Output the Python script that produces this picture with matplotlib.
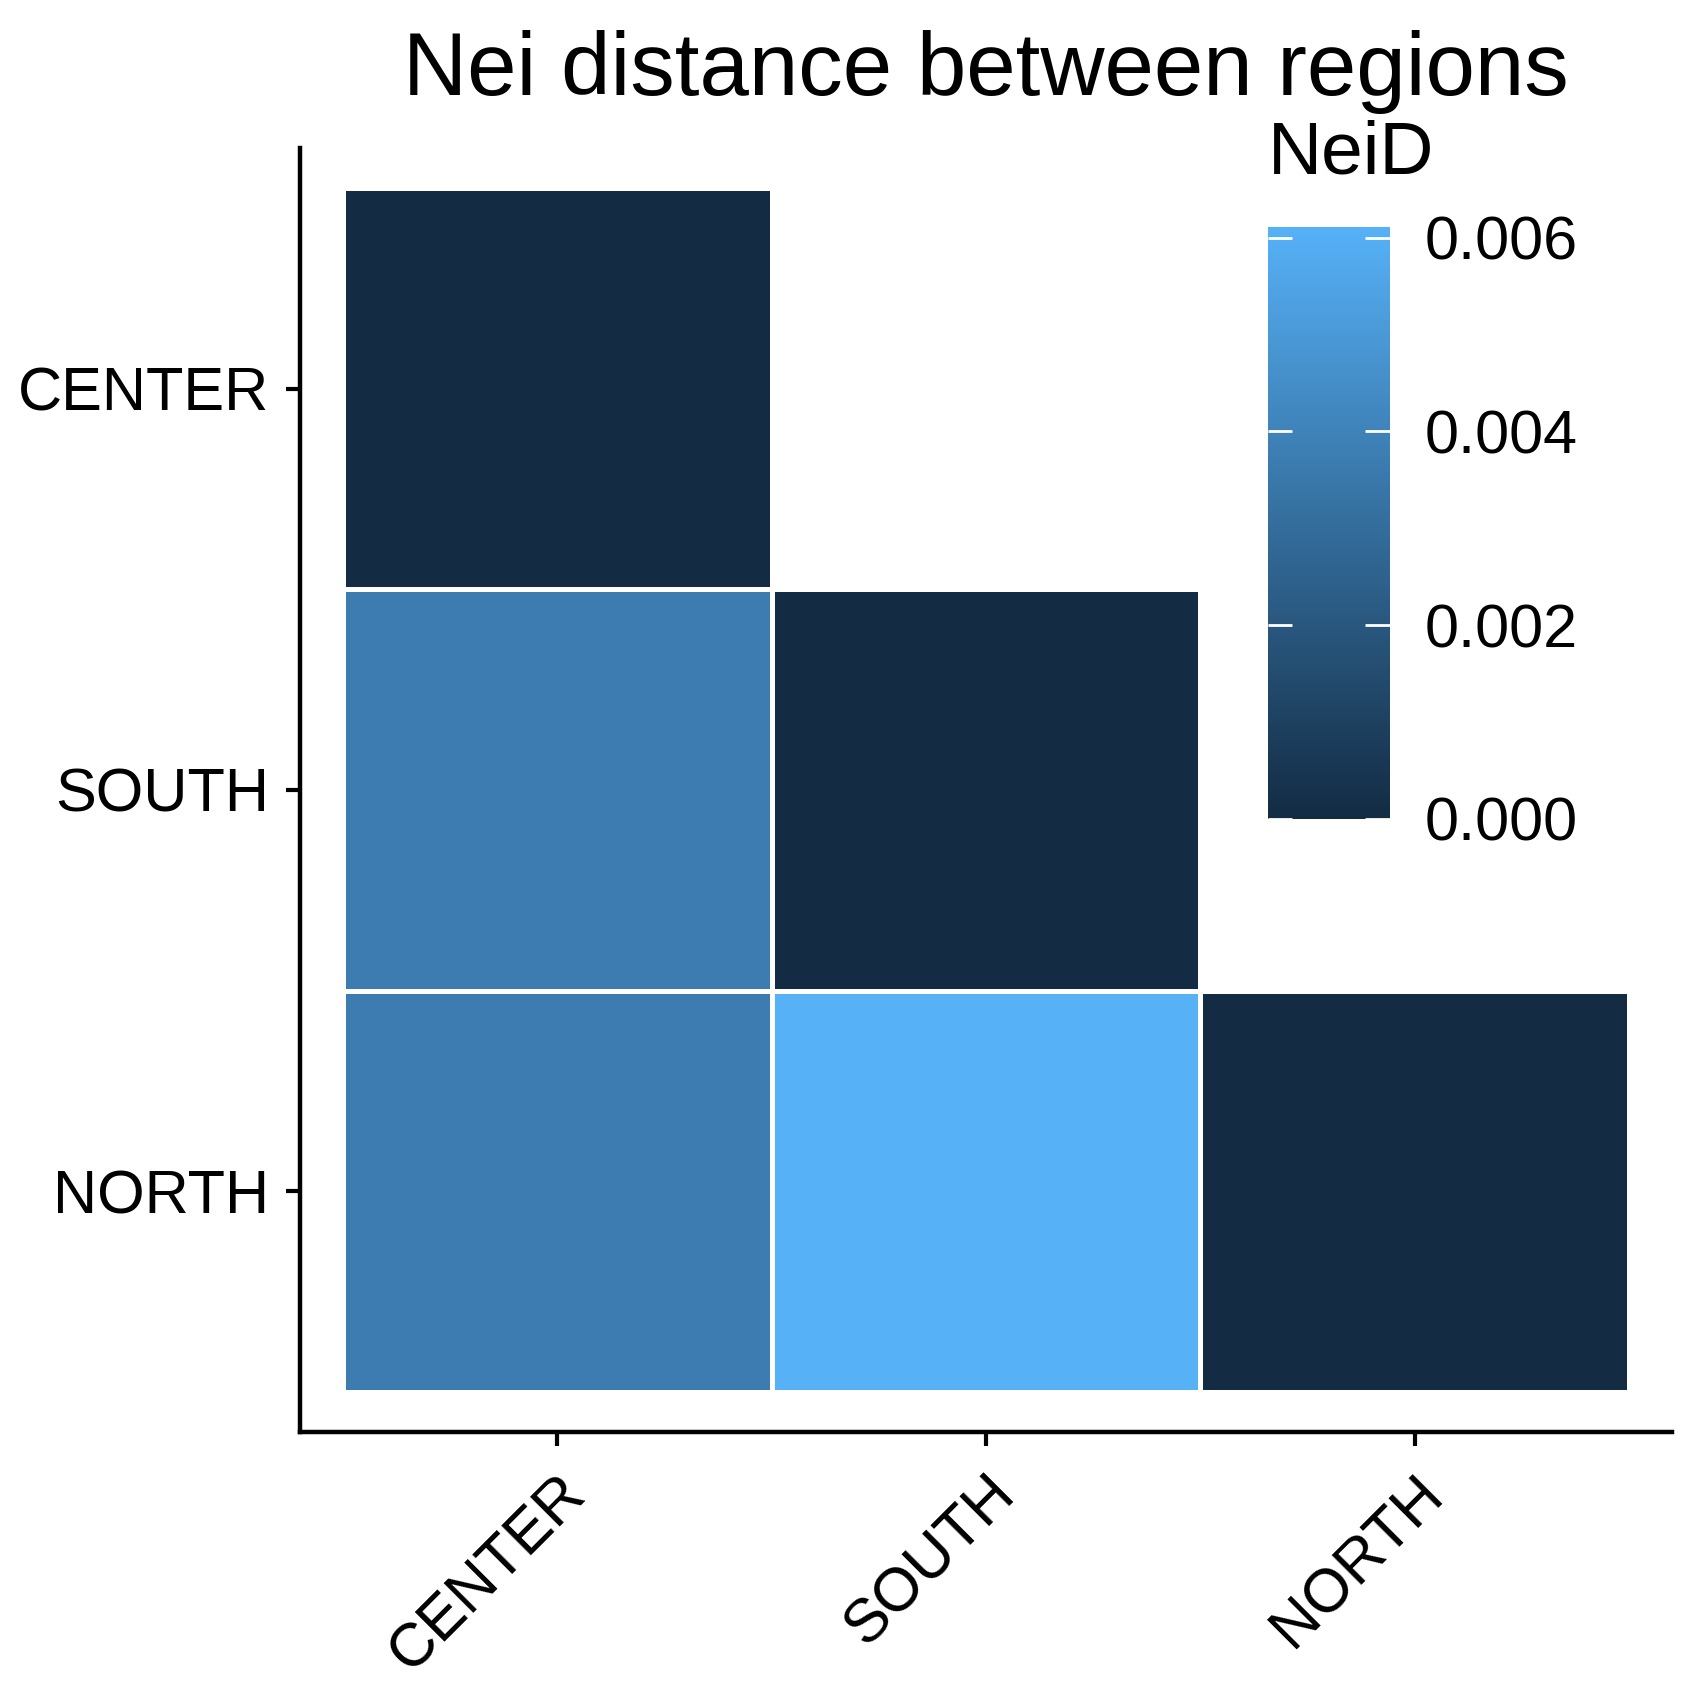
import numpy as np
import matplotlib
matplotlib.use("Agg")
import matplotlib.pyplot as plt
from matplotlib.colors import LinearSegmentedColormap, Normalize

# data: Nei distance, lower triangle only (NaN = not drawn)
regions = ['CENTER', 'SOUTH', 'NORTH']
row_center = [0.0, np.nan, np.nan]
row_south = [0.0037, 0.0, np.nan]
row_north = [0.0037, 0.0061, 0.0]
cbar_ticks = [0.000, 0.002, 0.004, 0.006]
vmax = 0.00611

plt.rcParams['font.family'] = ['Liberation Sans', 'DejaVu Sans']

def main():
    neid = np.ma.masked_invalid(np.array([row_center, row_south, row_north]))
    cmap = LinearSegmentedColormap.from_list('ggblue', ['#132B43', '#56B1F7'])
    norm = Normalize(vmin=0, vmax=vmax)

    fig = plt.figure(figsize=(16.95, 16.91), dpi=100)
    ax = fig.add_axes([0.177, 0.1532, 0.8095, 0.7593])

    x_edges = np.arange(len(regions) + 1) - 0.5
    mesh = ax.pcolormesh(x_edges, x_edges, neid, cmap=cmap, norm=norm,
                         edgecolors='white', linewidth=2.5)

    ax.set_xlim(-0.6, 2.6)
    ax.set_ylim(2.6, -0.6)
    ax.set_xticks(range(len(regions)))
    ax.set_yticks(range(len(regions)))
    ax.set_xticklabels(regions, rotation=45, ha='right', va='top',
                       rotation_mode='anchor', fontsize=44)
    ax.set_yticklabels(regions, fontsize=44)
    ax.tick_params(axis='both', length=10, width=3, color='black')
    ax.tick_params(axis='y', pad=12)
    ax.tick_params(axis='x', pad=14)
    for side in ['top', 'right']:
        ax.spines[side].set_visible(False)
    for side in ['left', 'bottom']:
        ax.spines[side].set_linewidth(3.2)

    ax.set_title('Nei distance between regions', fontsize=64, pad=38)

    # colourbar legend inside the empty upper triangle
    cax = fig.add_axes([0.748, 0.5157, 0.072, 0.350])
    cbar = fig.colorbar(mesh, cax=cax, ticks=cbar_ticks)
    cbar.outline.set_visible(False)
    cbar.ax.tick_params(length=0, pad=25, labelsize=44)
    cbar.ax.set_yticklabels(['%.3f' % t for t in cbar_ticks])
    trans = cbar.ax.get_yaxis_transform()
    cbar.ax.hlines(cbar_ticks, 0, 0.2, colors='white', linewidth=2, transform=trans)
    cbar.ax.hlines(cbar_ticks, 0.8, 1.0, colors='white', linewidth=2, transform=trans)
    cbar.ax.text(0.0, 1.065, 'NeiD', transform=cbar.ax.transAxes,
                 fontsize=54, ha='left', va='bottom')

    fig.savefig('out.png', dpi=100)

if __name__ == '__main__':
    main()
